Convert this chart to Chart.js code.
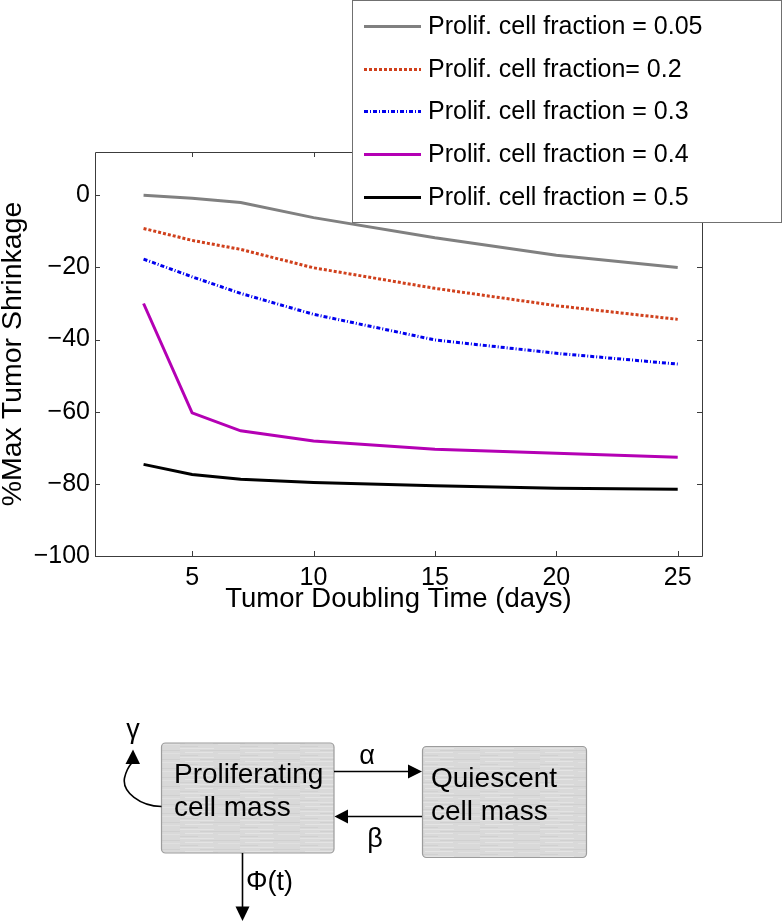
<!DOCTYPE html>
<html>
<head>
<meta charset="utf-8">
<script src="https://cdn.jsdelivr.net/npm/chart.js@4.4.1/dist/chart.umd.min.js"></script>
<style>
  html, body { margin:0; padding:0; background:#fff; }
  body { width:783px; height:922px; position:relative; overflow:hidden; font-family:"Liberation Sans", Arial, sans-serif; }
  #c { position:absolute; left:0; top:0; }
  #diag { position:absolute; left:0; top:0; }
</style>
</head>
<body>
<canvas id="c" width="783" height="640"></canvas>
<svg id="diag" width="783" height="922" xmlns="http://www.w3.org/2000/svg" font-family="Liberation Sans, Arial, sans-serif">
  <defs>
    <pattern id="tex" width="60" height="9" patternUnits="userSpaceOnUse">
      <rect width="60" height="9" fill="#d9d9d9"/>
      <rect x="0" y="1" width="34" height="1" fill="#e3e3e3"/>
      <rect x="20" y="3" width="40" height="1" fill="#d0d0d0"/>
      <rect x="5" y="5" width="28" height="1" fill="#e4e4e4"/>
      <rect x="38" y="6" width="22" height="1" fill="#e0e0e0"/>
      <rect x="0" y="8" width="18" height="1" fill="#d1d1d1"/>
    </pattern>
  </defs>
  <rect x="161.5" y="743" width="172.5" height="110" rx="4" fill="url(#tex)" stroke="#9c9c9c" stroke-width="1.2"/>
  <rect x="422.5" y="746.5" width="164" height="111" rx="4" fill="url(#tex)" stroke="#9c9c9c" stroke-width="1.2"/>
  <g font-size="28" fill="#000">
    <text x="174" y="783">Proliferating</text>
    <text x="174" y="816">cell mass</text>
    <text x="431" y="787">Quiescent</text>
    <text x="431" y="820">cell mass</text>
  </g>
  <g stroke="#000" stroke-width="1.6" fill="none">
    <line x1="334" y1="771.5" x2="409" y2="771.5"/>
    <line x1="422" y1="816.5" x2="347" y2="816.5"/>
    <line x1="242.5" y1="853" x2="242.5" y2="908"/>
    <path d="M161.5,806.5 C140,806 122,792 124.5,778 C126,771 129,766 132.5,762"/>
  </g>
  <g fill="#000">
    <polygon points="408,764.5 422,771.5 408,778.5"/>
    <polygon points="348,809.5 334.5,816.5 348,823.5"/>
    <polygon points="235.5,906.5 242.5,921 249.5,906.5"/>
    <polygon points="125.5,764 133,749.5 140,764"/>
  </g>
  <g font-size="27" fill="#000" dominant-baseline="central" text-anchor="middle">
    <text x="367" y="755">α</text>
    <text x="375" y="838">β</text>
    <text x="133" y="729">γ</text>
    <text x="246" y="881" text-anchor="start">Φ(t)</text>
  </g>
</svg>
<script>
// ---- data ----
const doublingTimes = [3, 5, 7, 10, 15, 20, 25];
const frac005 = [0, -0.8, -2, -6.2, -11.8, -16.6, -20];
const frac02  = [-9.2, -12.5, -15, -20.1, -25.8, -30.6, -34.4];
const frac03  = [-17.7, -22.6, -27.2, -33, -40.1, -43.8, -46.8];
const frac04  = [-30, -60.3, -65.3, -68.1, -70.4, -71.5, -72.6];
const frac05  = [-74.6, -77.4, -78.7, -79.6, -80.5, -81.2, -81.5];
const seriesLabels = [
  'Prolif. cell fraction = 0.05',
  'Prolif. cell fraction= 0.2',
  'Prolif. cell fraction = 0.3',
  'Prolif. cell fraction = 0.4',
  'Prolif. cell fraction = 0.5'
];
const xTickValues = [5, 10, 15, 20, 25];
const yTickValues = [-100, -80, -60, -40, -20, 0];
const xTitle = 'Tumor Doubling Time (days)';
const yTitle = '%Max Tumor Shrinkage';

const FONT = '"Liberation Sans", Arial, sans-serif';
const styles = [
  { color: '#808080', dash: [] },
  { color: '#d0401c', dash: [3, 2] },
  { color: '#0000ee', dash: [4, 2, 1, 2] },
  { color: '#b400b4', dash: [] },
  { color: '#000000', dash: [] }
];
const allSeries = [frac005, frac02, frac03, frac04, frac05];

const datasets = allSeries.map((vals, i) => ({
  label: seriesLabels[i],
  data: doublingTimes.map((x, j) => ({ x: x, y: vals[j] })),
  borderColor: styles[i].color,
  backgroundColor: styles[i].color,
  borderDash: styles[i].dash,
  borderWidth: 3,
  pointRadius: 0,
  tension: 0,
  fill: false
}));

const framePlugin = {
  id: 'frame',
  afterDatasetsDraw(chart) {
    const { ctx, chartArea: a, scales: { x, y } } = chart;
    ctx.save();
    ctx.strokeStyle = '#3c3c3c';
    ctx.lineWidth = 1;
    ctx.beginPath();
    ctx.rect(Math.round(a.left) + 0.5, Math.round(a.top) + 0.5, Math.round(a.right - a.left), Math.round(a.bottom - a.top));
    x.ticks.forEach(t => {
      const px = Math.round(x.getPixelForValue(t.value)) + 0.5;
      ctx.moveTo(px, a.bottom); ctx.lineTo(px, a.bottom - 5);
      ctx.moveTo(px, a.top); ctx.lineTo(px, a.top + 5);
    });
    y.ticks.forEach(t => {
      const py = Math.round(y.getPixelForValue(t.value)) + 0.5;
      ctx.moveTo(a.left, py); ctx.lineTo(a.left + 5, py);
      ctx.moveTo(a.right, py); ctx.lineTo(a.right - 5, py);
    });
    ctx.stroke();
    ctx.restore();
  },
  afterDraw(chart) {
    const { ctx } = chart;
    const box = { x: 352.5, y: 0.5, w: 429, h: 222 };
    ctx.save();
    ctx.fillStyle = '#ffffff';
    ctx.fillRect(box.x, box.y, box.w, box.h);
    ctx.strokeStyle = '#707070';
    ctx.lineWidth = 1;
    ctx.strokeRect(box.x, box.y, box.w, box.h);
    ctx.font = '25px ' + FONT;
    ctx.textBaseline = 'middle';
    ctx.textAlign = 'left';
    chart.data.datasets.forEach((ds, i) => {
      const cy = 26 + i * 42.7;
      ctx.strokeStyle = ds.borderColor;
      ctx.lineWidth = 3;
      ctx.setLineDash(ds.borderDash || []);
      ctx.beginPath();
      ctx.moveTo(364, Math.round(cy) + 0.5);
      ctx.lineTo(421, Math.round(cy) + 0.5);
      ctx.stroke();
      ctx.setLineDash([]);
      ctx.fillStyle = '#000';
      ctx.fillText(ds.label, 428, cy + 1);
    });
    ctx.restore();
  }
};

new Chart(document.getElementById('c'), {
  type: 'line',
  data: { datasets },
  options: {
    responsive: false,
    animation: false,
    layout: { padding: { left: 0, top: 152, right: 81, bottom: 24 } },
    plugins: { legend: { display: false }, tooltip: { enabled: false } },
    scales: {
      x: {
        type: 'linear', min: 1, max: 26,
        grid: { display: false, drawTicks: false, tickLength: 0 },
        border: { display: false },
        afterBuildTicks: s => { s.ticks = xTickValues.map(v => ({ value: v })); },
        afterFit: s => { s.height = 60; },
        ticks: { color: '#000', font: { size: 25, family: FONT }, padding: 7, maxRotation: 0, autoSkip: false },
        title: { display: true, text: xTitle, color: '#000', font: { size: 27.5, family: FONT }, padding: { top: 0, bottom: 0 } }
      },
      y: {
        type: 'linear', min: -100, max: 12,
        grid: { display: false, drawTicks: false, tickLength: 0 },
        border: { display: false },
        afterBuildTicks: s => { s.ticks = yTickValues.map(v => ({ value: v })); },
        afterFit: s => { s.width = 95; },
        ticks: { color: '#000', font: { size: 25, family: FONT }, padding: 5, autoSkip: false,
          callback: v => String(v).replace('-', '\u2212') },
        title: { display: true, text: yTitle, color: '#000', font: { size: 28.5, family: FONT }, padding: { top: -3.5, bottom: 0 } }
      }
    }
  },
  plugins: [framePlugin]
});
</script>
</body>
</html>
